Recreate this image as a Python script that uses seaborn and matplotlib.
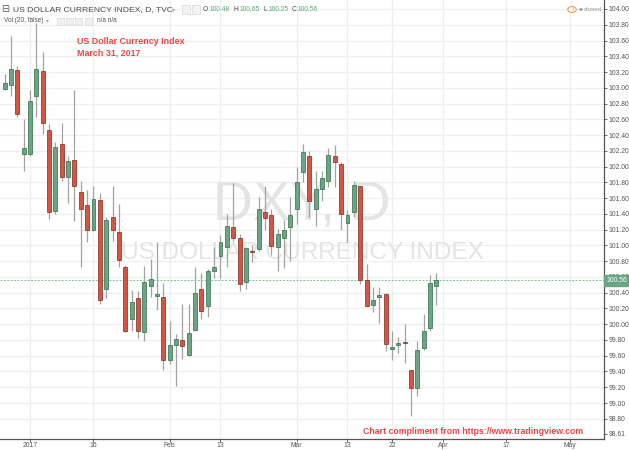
import numpy as np
import pandas as pd
import matplotlib
matplotlib.use("Agg")
import matplotlib.pyplot as plt
import seaborn as sns

# ---------------- data ----------------
dates = ["2016-12-27", "2016-12-28", "2016-12-29", "2016-12-30",
         "2017-01-02", "2017-01-03", "2017-01-04", "2017-01-05", "2017-01-06",
         "2017-01-09", "2017-01-10", "2017-01-11", "2017-01-12", "2017-01-13",
         "2017-01-16", "2017-01-17", "2017-01-18", "2017-01-19", "2017-01-20",
         "2017-01-23", "2017-01-24", "2017-01-25", "2017-01-26", "2017-01-27",
         "2017-01-30", "2017-01-31", "2017-02-01", "2017-02-02", "2017-02-03",
         "2017-02-06", "2017-02-07", "2017-02-08", "2017-02-09", "2017-02-10",
         "2017-02-13", "2017-02-14", "2017-02-15", "2017-02-16", "2017-02-17",
         "2017-02-20", "2017-02-21", "2017-02-22", "2017-02-23", "2017-02-24",
         "2017-02-27", "2017-02-28", "2017-03-01", "2017-03-02", "2017-03-03",
         "2017-03-06", "2017-03-07", "2017-03-08", "2017-03-09", "2017-03-10",
         "2017-03-13", "2017-03-14", "2017-03-15", "2017-03-16", "2017-03-17",
         "2017-03-20", "2017-03-21", "2017-03-22", "2017-03-23", "2017-03-24",
         "2017-03-27", "2017-03-28", "2017-03-29", "2017-03-30", "2017-03-31"]

open_ = [102.99, 103.03, 103.22, 102.16,
         102.16, 102.89, 103.21, 102.46, 101.44,
         102.29, 101.87, 102.08, 101.68, 101.51,
         101.20, 101.58, 100.45, 101.36, 101.17,
         100.73, 100.06, 100.33, 99.90, 100.48,
         100.36, 100.34, 99.54, 99.73, 99.80,
         99.61, 99.93, 100.45, 100.23, 100.67,
         100.86, 100.98, 101.23, 101.09, 100.54,
         100.93, 100.95, 101.42, 101.39, 100.98,
         101.10, 101.23, 101.46, 101.93, 102.14,
         101.46, 101.71, 101.82, 102.14, 102.03,
         101.29, 101.43, 101.75, 100.56, 100.25,
         100.35, 100.38, 99.68, 99.73, 99.77,
         99.42, 99.19, 99.70, 99.95, 100.48]

high = [103.17, 103.66, 103.28, 102.61,
        102.97, 103.82, 103.46, 102.54, 102.31,
        102.55, 102.13, 102.97, 101.82, 101.70,
        101.76, 101.66, 101.36, 101.75, 101.52,
        100.75, 100.43, 100.42, 100.74, 100.83,
        101.04, 100.52, 100.04, 99.87, 100.26,
        100.26, 100.73, 100.65, 100.70, 100.98,
        101.13, 101.40, 101.79, 101.15, 100.98,
        101.00, 101.62, 101.75, 101.46, 101.21,
        101.32, 101.61, 101.99, 102.29, 102.20,
        101.95, 101.94, 102.23, 102.28, 102.06,
        101.45, 101.82, 101.76, 100.76, 100.47,
        100.47, 100.39, 99.92, 99.84, 100.00,
        99.42, 99.79, 100.13, 100.62, 100.65]

low = [102.97, 102.90, 102.63, 101.94,
       102.14, 102.63, 102.42, 101.33, 101.40,
       101.82, 101.54, 101.31, 100.73, 101.04,
       101.18, 100.26, 100.33, 101.06, 100.72,
       99.90, 99.92, 99.83, 99.79, 100.34,
       100.18, 99.42, 99.49, 99.22, 99.56,
       99.60, 99.92, 100.06, 100.09, 100.59,
       100.59, 100.72, 101.05, 100.42, 100.45,
       100.79, 100.93, 101.19, 100.88, 100.68,
       100.71, 100.80, 101.27, 101.80, 101.36,
       101.24, 101.56, 101.74, 101.74, 101.20,
       101.04, 101.36, 100.51, 100.22, 100.15,
       100.02, 99.66, 99.54, 99.63, 99.51,
       98.83, 99.09, 99.67, 99.92, 100.25]

close = [103.06, 103.24, 102.67, 102.24,
         102.83, 103.24, 102.55, 101.42, 102.25,
         101.87, 102.07, 101.75, 101.46, 101.20,
         101.59, 100.31, 101.32, 101.19, 100.82,
         99.92, 100.28, 99.92, 100.54, 100.57,
         100.38, 99.54, 99.74, 99.81, 99.72,
         99.89, 100.40, 100.17, 100.68, 100.72,
         101.04, 101.25, 101.10, 100.51, 100.97,
         100.91, 101.46, 101.35, 100.99, 101.14,
         101.19, 101.38, 101.80, 102.18, 101.56,
         101.72, 101.85, 102.15, 102.06, 101.40,
         101.39, 101.77, 100.56, 100.23, 100.31,
         100.37, 99.75, 99.71, 99.76, 99.76,
         99.19, 99.67, 99.92, 100.52, 100.56]

# bullish flag where the reference candle is green
up = [True, True, False, True,
      True, True, False, False, True,
      False, True, False, False, False,
      True, False, True, False, False,
      False, True, False, True, True,
      True, False, True, True, False,
      True, True, False, True, True,
      True, True, False, False, True,
      False, True, False, False, True,
      True, True, True, True, False,
      True, True, True, False, False,
      True, True, False, False, True,
      True, False, True, True, False,
      False, True, True, True, True]

tick_dates = ["2017-01-02", "2017-01-16", "2017-02-01", "2017-02-13", "2017-03-01",
              "2017-03-13", "2017-03-22", "2017-04-03", "2017-04-17", "2017-05-01"]
tick_labels = ["2017", "16", "Feb", "13", "Mar", "13", "22", "Apr", "17", "May"]

price_ticks = [round(98.80 + 0.2 * k, 2) for k in range(27)]
bottom_label_value = 98.61
last_price = 100.56

# ---------------- setup ----------------
sns.set_theme(style="white")
plt.rcParams['font.family'] = ['Liberation Sans', 'DejaVu Sans']

W, H = 629, 450
fig = plt.figure(figsize=(W / 100, H / 100), dpi=100)
fig.patch.set_facecolor("white")

plot_right = 604
plot_bottom = 439
ax = fig.add_axes([0, (H - plot_bottom) / H, plot_right / W, plot_bottom / H])
ax.set_facecolor("white")

# trading-day index (weekdays) relative to 2017-01-02
cal = pd.bdate_range("2016-12-20", "2017-05-31")
origin = cal.get_loc(pd.Timestamp("2017-01-02"))
def pos(d):
    return cal.get_loc(pd.Timestamp(d)) - origin

df = pd.DataFrame({"date": dates, "open": open_, "high": high, "low": low,
                   "close": close, "up": up})
df["x"] = [pos(d) for d in df["date"]]

px_per_bar = 6.35
x0_px = 30.0
xmin = -x0_px / px_per_bar
xmax = (plot_right - x0_px) / px_per_bar
ax.set_xlim(xmin, xmax)

px_per_unit = 78.8
ytop = 104.0 + 9 / px_per_unit
ybot = ytop - plot_bottom / px_per_unit
ax.set_ylim(ybot, ytop)

# grid
grid_c = "#eeeff1"
for v in price_ticks:
    ax.axhline(v, color=grid_c, lw=0.9, zorder=0)
tick_x = [pos(d) for d in tick_dates]
for tx in tick_x:
    ax.axvline(tx, color=grid_c, lw=0.9, zorder=0)

# watermark
xmid = (xmin + xmax) / 2
ax.text(xmid, 101.50, "DXY, D", ha="center", va="center", fontsize=40,
        color="#e4e4e4", zorder=1)
ax.text(xmid, 100.90, "US DOLLAR CURRENCY INDEX", ha="center", va="center",
        fontsize=17.6, color="#e4e4e4", zorder=1)

# last price dashed line
ax.axhline(last_price, color="#7cc494", lw=0.7, ls=(0, (2, 1.5)), zorder=1.5)

# candles
up_face, dn_face = "#6ba583", "#d75442"
up_edge, dn_edge = "#2f6a47", "#7d2a1f"
wick_c = "#a3a3a3"
ax.vlines(df["x"], df["low"], df["high"], color=wick_c, lw=0.9, zorder=2)
body_lo = np.minimum(df["open"], df["close"])
body_h = np.maximum(np.abs(df["close"] - df["open"]), 0.018)
faces = [up_face if u else dn_face for u in df["up"]]
edges = [up_edge if u else dn_edge for u in df["up"]]
ax.bar(df["x"], body_h, bottom=body_lo, width=0.62, color=faces,
       edgecolor=edges, linewidth=0.5, zorder=3)

# axes styling
for s in ["top", "left"]:
    ax.spines[s].set_visible(False)
for s in ["right", "bottom"]:
    ax.spines[s].set_color("#555555")
    ax.spines[s].set_linewidth(0.9)

ax.yaxis.tick_right()
ax.set_yticks(price_ticks + [bottom_label_value])
ax.set_yticklabels([f"{v:.2f}" for v in price_ticks] + [f"{bottom_label_value:.2f}"])
ax.tick_params(axis="y", which="both", right=True, length=2, width=0.6,
               color="#555555", labelsize=4.9, labelcolor="#555555", pad=1)
ax.set_xticks(tick_x)
ax.set_xticklabels(tick_labels)
ax.tick_params(axis="x", bottom=True, length=2, width=0.6, color="#555555",
               labelsize=4.9, labelcolor="#555555", pad=0.5)
ax.set_xlabel("")
ax.set_ylabel("")

# last price tag
ax.annotate(f"{last_price:.2f}", xy=(1.0, last_price), xycoords=("axes fraction", "data"),
            xytext=(1.6, 0), textcoords="offset points", ha="left", va="center",
            fontsize=4.9, color="white",
            bbox=dict(boxstyle="square,pad=0.3", fc="#6ba583", ec="#6ba583"),
            zorder=10, annotation_clip=False)

# ---------------- texts ----------------
def ftxt(x, y, s, **kw):
    fig.text(x / W, 1 - y / H, s, **kw)

ftxt(1, 9.5, "⊟", fontsize=7, color="#666666", va="center", ha="left",
     family=["DejaVu Sans"])
ftxt(13, 9.5, "US DOLLAR CURRENCY INDEX, D, TVC", fontsize=6.1, color="#4a4a4a",
     va="center", ha="left")
ftxt(172, 9.5, "▾", fontsize=4.5, color="#aaaaaa", va="center", ha="left",
     family=["DejaVu Sans"])
# small icon boxes
for bx in [182, 192]:
    fig.patches.append(matplotlib.patches.Rectangle((bx / W, 1 - 13.5 / H), 8 / W, 8 / H,
                       transform=fig.transFigure, fc="#f2f2f2", ec="#d8d8d8", lw=0.5))
green_num = "#5aa977"
items = [(203, "O", "#4a4a4a"), (209.5, "100.48", green_num), (233, "H", "#4a4a4a"),
         (239.5, "100.65", green_num), (264, "L", "#4a4a4a"), (268.5, "100.25", green_num),
         (292, "C", "#4a4a4a"), (297.5, "100.56", green_num)]
for x, s, c in items:
    ftxt(x, 9.5, s, fontsize=4.8, color=c, va="center", ha="left")

ftxt(4, 21, "Vol (20, false)", fontsize=4.7, color="#555555", va="center", ha="left")
ftxt(46, 21, "▾", fontsize=4.2, color="#aaaaaa", va="center", ha="left",
     family=["DejaVu Sans"])
for bx in [57, 66, 75, 85]:
    fig.patches.append(matplotlib.patches.Rectangle((bx / W, 1 - 24.5 / H), 7 / W, 7 / H,
                       transform=fig.transFigure, fc="#f0f0f0", ec="#dadada", lw=0.5))
ftxt(97, 21, "n/a n/a", fontsize=4.7, color="#555555", va="center", ha="left")

red = "#f04646"
ftxt(77, 42, "US Dollar Currency Index", fontsize=6.4, color=red, fontweight="bold",
     va="center", ha="left")
ftxt(77, 53, "March 31, 2017", fontsize=6.4, color=red, fontweight="bold",
     va="center", ha="left")
ftxt(363, 431, "Chart compliment from https://www.tradingview.com", fontsize=6.3,
     color=red, fontweight="bold", va="center", ha="left")

# closed indicator
fig.patches.append(matplotlib.patches.Circle((572 / W, 1 - 9.5 / H), 4.2 / W,
                   transform=fig.transFigure, fc="white", ec="#f5a65b", lw=0.9))
ftxt(572, 9.5, "!", fontsize=5, color="#f5a65b", va="center", ha="center",
     fontweight="bold")
fig.patches.append(matplotlib.patches.Circle((581 / W, 1 - 9.5 / H), 1.8 / W,
                   transform=fig.transFigure, fc="#999999", ec="none"))
ftxt(584, 9.5, "closed", fontsize=4.6, color="#999999", va="center", ha="left")

fig.savefig("out.png", dpi=100, facecolor="white")
